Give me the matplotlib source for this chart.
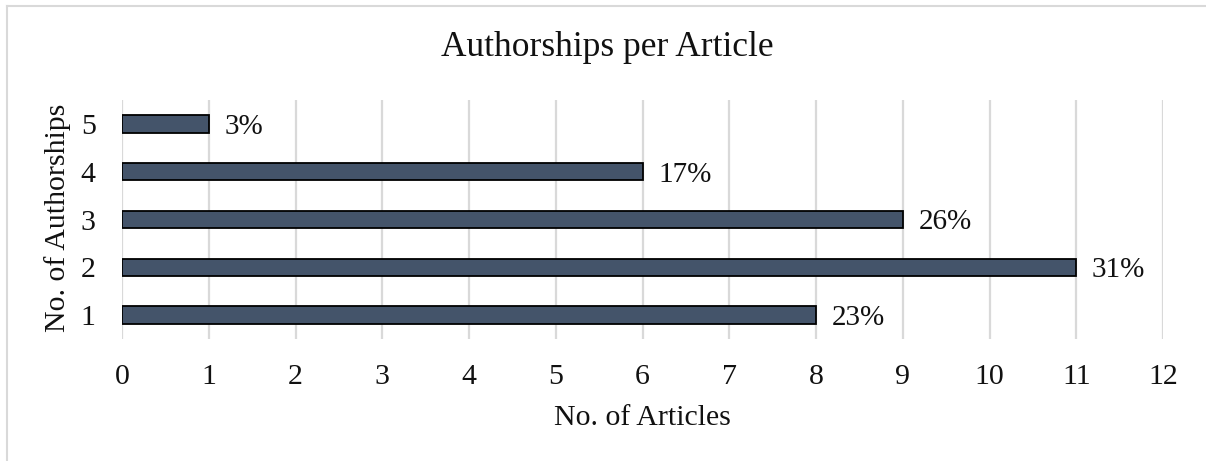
import matplotlib
matplotlib.use("Agg")
import matplotlib.pyplot as plt
from matplotlib.lines import Line2D

categories = ["1", "2", "3", "4", "5"]
articles = [8, 11, 9, 6, 1]
shares = ["23%", "31%", "26%", "17%", "3%"]
x_ticks = list(range(0, 13))

plt.rcParams["font.family"] = ["Liberation Serif", "DejaVu Serif"]

W, H = 1206, 461
fig = plt.figure(figsize=(W / 100, H / 100), dpi=100)
ax = fig.add_axes([122 / W, 1 - 339 / H, (1163 - 122) / W, (339 - 100) / H])

ypos = list(range(1, len(categories) + 1))
bars = ax.barh(ypos, articles, height=0.36, color="#44546A",
               edgecolor="black", linewidth=1.3, zorder=3)
for b, s in zip(bars, shares):
    ax.text(b.get_width() + 0.18, b.get_y() + b.get_height() / 2 - 0.06, s,
            va="center", ha="left", fontsize=21, color="#111111")

ax.set_xlim(0, 12)
ax.set_ylim(0.5, len(categories) + 0.5)
ax.set_xticks(x_ticks)
ax.set_xticklabels([str(t) for t in x_ticks])
ax.set_yticks(ypos)
ax.set_yticklabels(categories)
ax.tick_params(axis="both", length=0, labelsize=21.5, colors="#111111")
ax.tick_params(axis="x", pad=18)
ax.tick_params(axis="y", pad=19)
ax.grid(axis="x", color="#D9D9D9", linewidth=1.6, zorder=0)
for sp in ax.spines.values():
    sp.set_visible(False)

fig.text(642 / W, 1 - 418 / H, "No. of Articles", ha="center", va="center",
         fontsize=21.5, color="#111111")
fig.text(58 / W, 1 - 218 / H, "No. of Authorships", ha="center", va="center",
         rotation=90, fontsize=21.5, color="#111111")
fig.text(607 / W, 1 - 48 / H, "Authorships per Article",
         ha="center", va="center", fontsize=25.5, color="#111111")

# light frame around the chart area
fig.add_artist(Line2D([7 / W, 1], [1 - 6 / H, 1 - 6 / H], transform=fig.transFigure,
                      color="#D9D9D9", linewidth=1.5))
fig.add_artist(Line2D([7 / W, 7 / W], [0, 1 - 6 / H], transform=fig.transFigure,
                      color="#D9D9D9", linewidth=1.5))

fig.savefig("out.png", dpi=100)
